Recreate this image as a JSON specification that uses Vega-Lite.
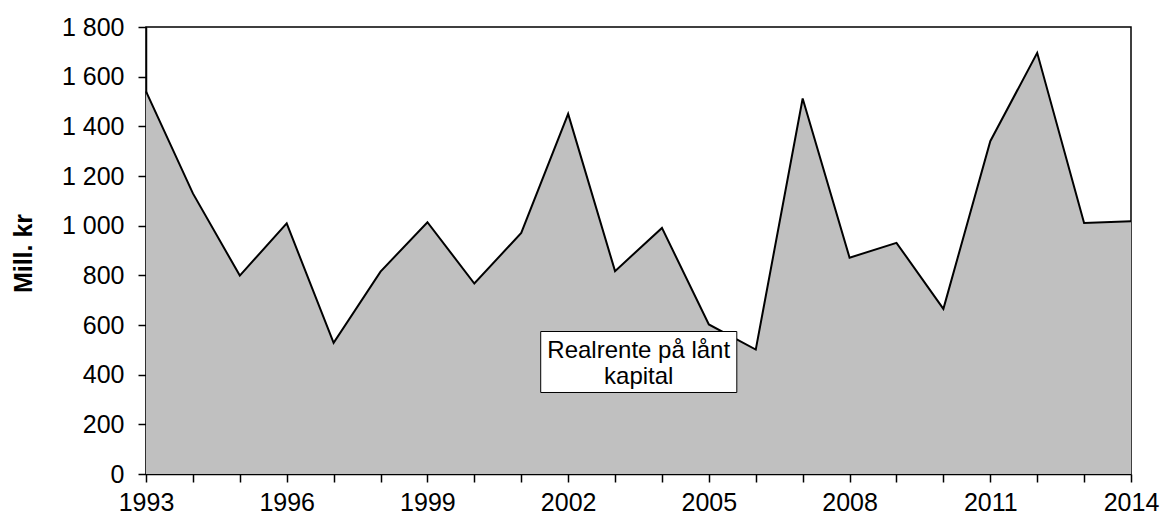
{
  "$schema": "https://vega.github.io/schema/vega-lite/v6.json",
  "width": 985,
  "height": 447,
  "autosize": {"type": "none"},
  "padding": {"left": 146, "top": 27, "right": 30, "bottom": 43},
  "background": "white",
  "config": {
    "font": "Liberation Sans",
    "view": {"stroke": "#000", "strokeWidth": 1.5},
    "axis": {"grid": false, "domainColor": "#000", "domainWidth": 1.5, "tickColor": "#000", "tickWidth": 1.5, "labelColor": "#000", "titleColor": "#000"}
  },
  "datasets": {
    "series": [
      {"year": 1993, "value": 1541},
      {"year": 1994, "value": 1130},
      {"year": 1995, "value": 799},
      {"year": 1996, "value": 1009},
      {"year": 1997, "value": 528},
      {"year": 1998, "value": 815},
      {"year": 1999, "value": 1014},
      {"year": 2000, "value": 767},
      {"year": 2001, "value": 971},
      {"year": 2002, "value": 1450},
      {"year": 2003, "value": 817},
      {"year": 2004, "value": 991},
      {"year": 2005, "value": 602},
      {"year": 2006, "value": 501},
      {"year": 2007, "value": 1512},
      {"year": 2008, "value": 871},
      {"year": 2009, "value": 931},
      {"year": 2010, "value": 665},
      {"year": 2011, "value": 1340},
      {"year": 2012, "value": 1696},
      {"year": 2013, "value": 1011},
      {"year": 2014, "value": 1018}
    ],
    "box": [
      {"x": 2001.415, "x2": 2005.596, "y": 573.8, "y2": 328.2}
    ],
    "label": [
      {"x": 2003.505, "y": 469, "text": "Realrente på lånt"},
      {"x": 2003.505, "y": 364, "text": "kapital"}
    ]
  },
  "layer": [
    {
      "data": {"name": "series"},
      "mark": {"type": "area", "color": "#c0c0c0", "opacity": 1, "fillOpacity": 1, "line": {"color": "#000", "strokeWidth": 2}},
      "encoding": {
        "x": {
          "field": "year", "type": "quantitative",
          "scale": {"domain": [1993, 2014], "nice": false, "zero": false},
          "axis": {
            "title": null,
            "values": [1993,1994,1995,1996,1997,1998,1999,2000,2001,2002,2003,2004,2005,2006,2007,2008,2009,2010,2011,2012,2013,2014],
            "labelExpr": "(datum.value - 1993) % 3 == 0 ? format(datum.value, 'd') : ''",
            "labelFontSize": 25,
            "tickSize": 8,
            "labelPadding": 8,
            "labelOverlap": false,
            "labelFlush": false
          }
        },
        "y": {
          "field": "value", "type": "quantitative",
          "scale": {"domain": [0, 1800], "nice": false},
          "axis": {
            "title": "Mill. kr",
            "titleFontSize": 25,
            "titleFontWeight": "bold",
            "titleAngle": -90,
            "titleAlign": "center",
            "titleBaseline": "middle",
            "titleX": -123,
            "titleY": 226,
            "values": [0,200,400,600,800,1000,1200,1400,1600,1800],
            "labelExpr": "replace(format(datum.value, ','), ',', ' ')",
            "labelFontSize": 25,
            "tickSize": 8,
            "labelPadding": 14
          }
        }
      }
    },
    {
      "data": {"name": "box"},
      "mark": {"type": "rect", "fill": "white", "stroke": "#000", "strokeWidth": 1},
      "encoding": {
        "x": {"field": "x", "type": "quantitative"},
        "x2": {"field": "x2"},
        "y": {"field": "y", "type": "quantitative"},
        "y2": {"field": "y2"}
      }
    },
    {
      "data": {"name": "label"},
      "mark": {"type": "text", "fontSize": 24, "align": "center", "baseline": "alphabetic", "color": "#000"},
      "encoding": {
        "x": {"field": "x", "type": "quantitative"},
        "y": {"field": "y", "type": "quantitative"},
        "text": {"field": "text"}
      }
    }
  ]
}
